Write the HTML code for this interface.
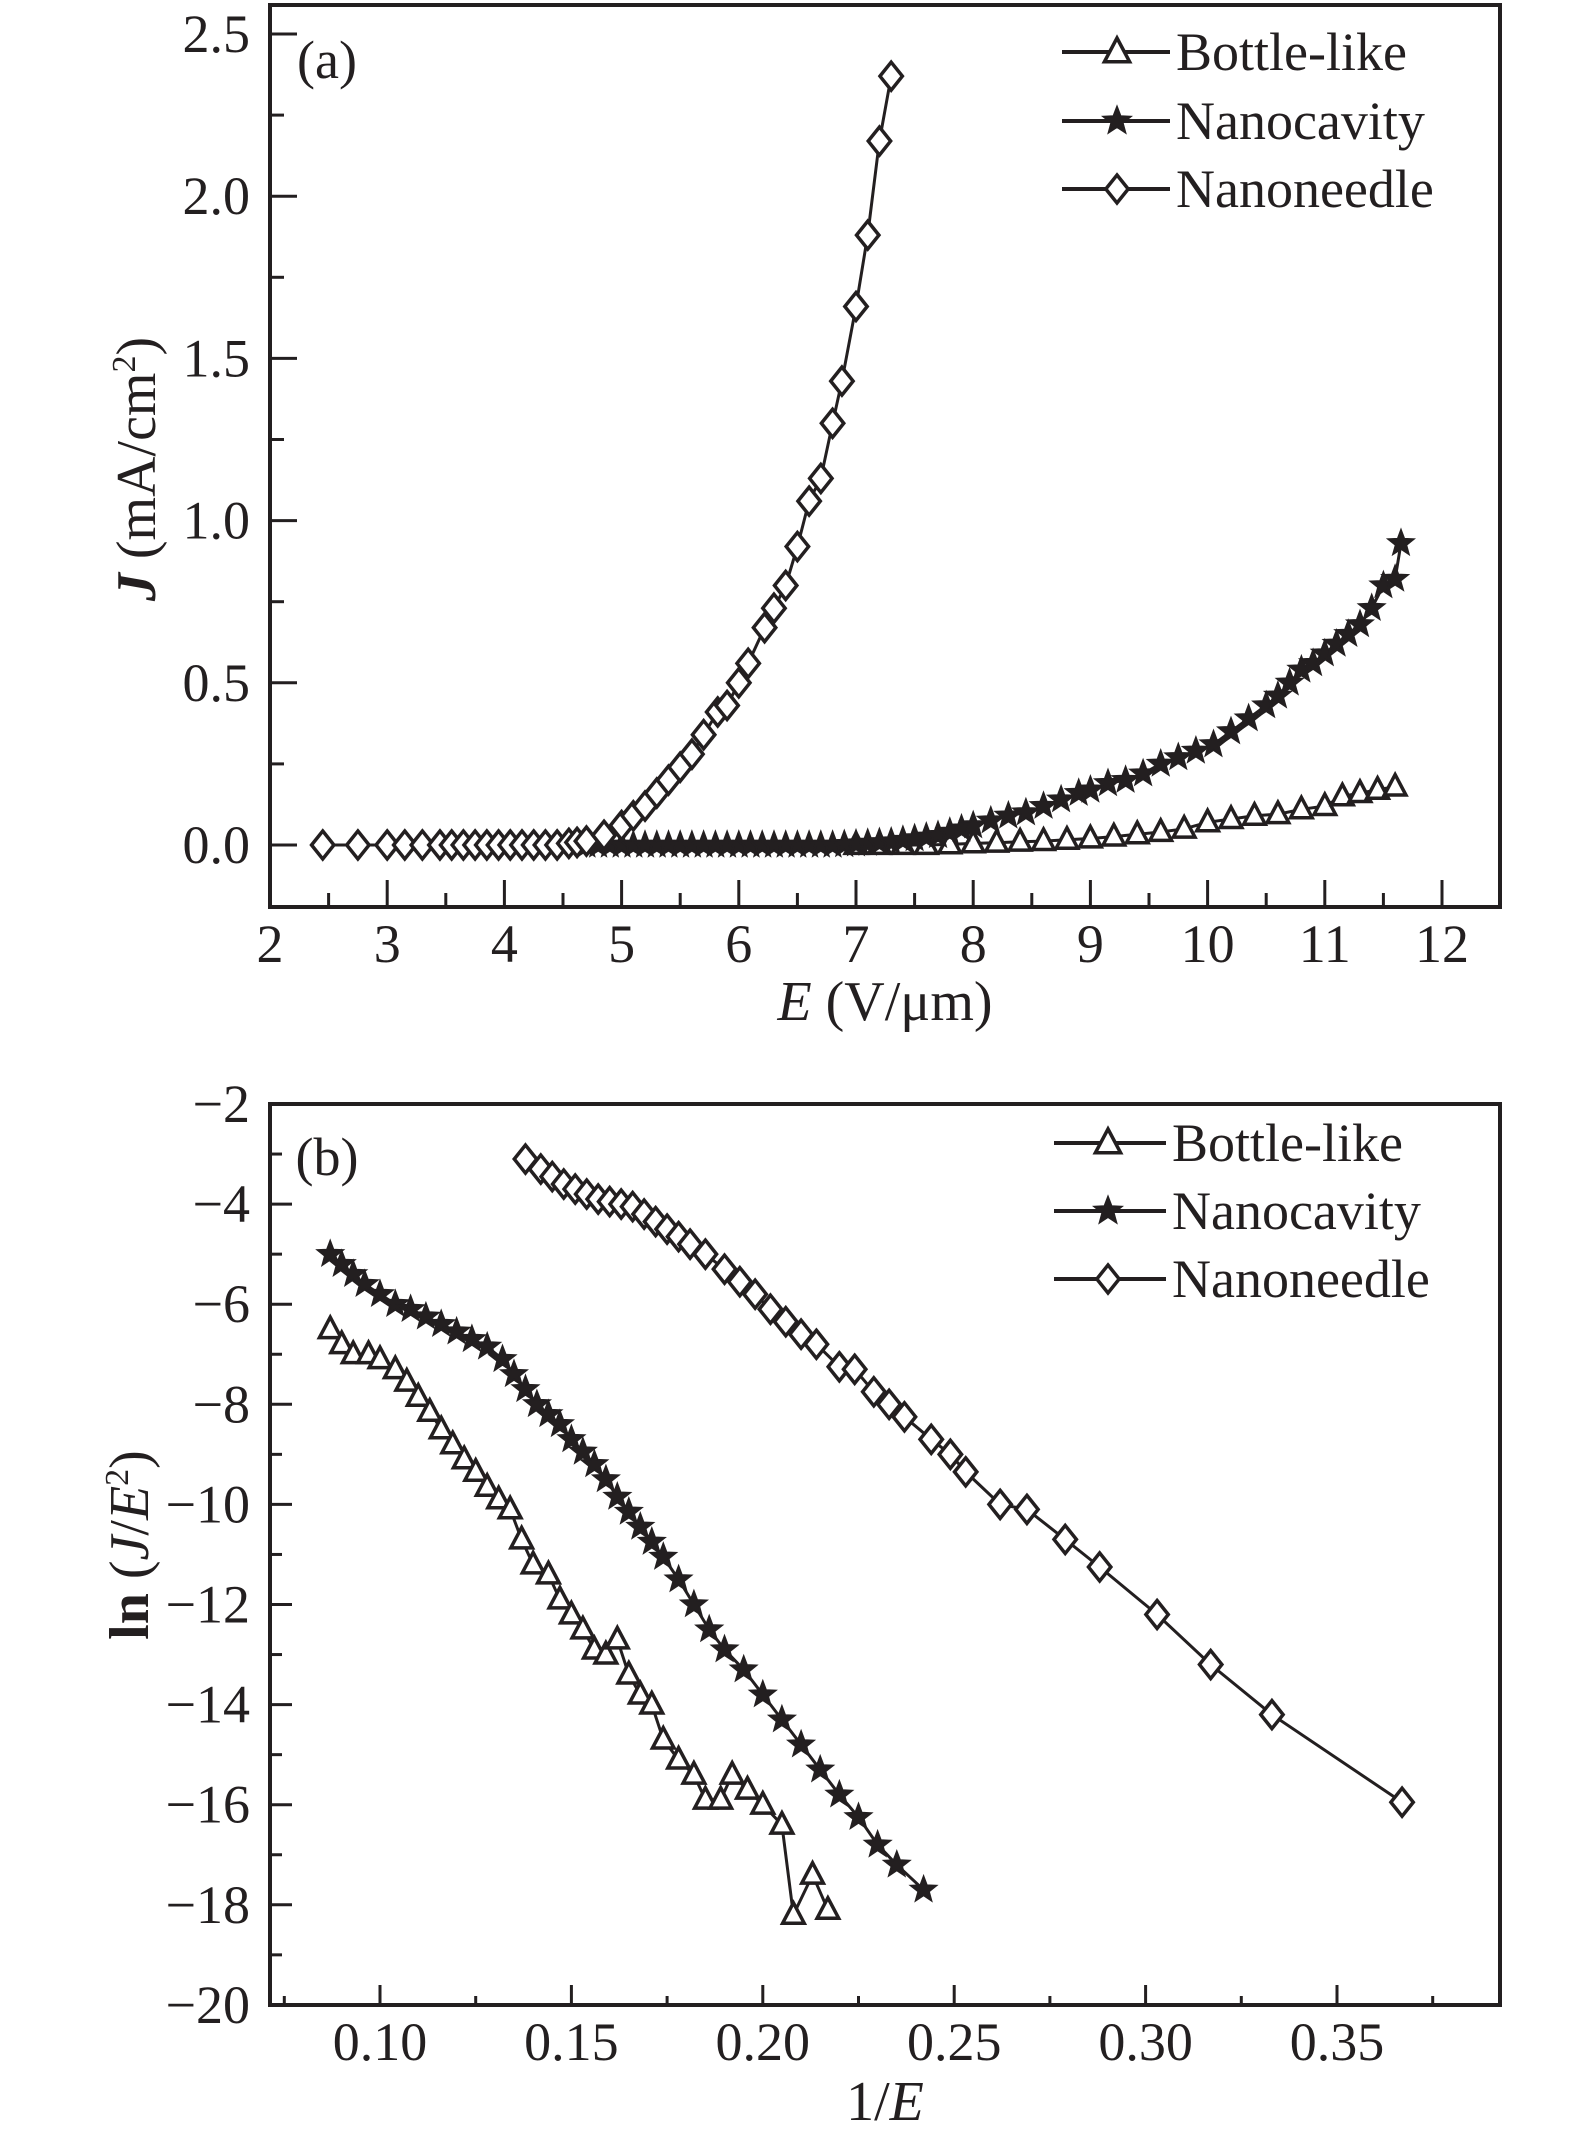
<!DOCTYPE html>
<html><head><meta charset="utf-8"><style>
html,body{margin:0;padding:0;background:#fff;}
svg{display:block;font-family:"Liberation Serif",serif;}
</style></head><body>
<svg id="fig" width="1575" height="2142" viewBox="0 0 1575 2142" xmlns="http://www.w3.org/2000/svg"></svg>
<script>
// ---------- Panel (a) data ----------
const aNeedleE = [2.45,2.75,3.0,3.15,3.3,3.45,3.55,3.65,3.75,3.85,3.95,4.05,4.15,4.25,4.35,4.45,4.55,4.62,4.7,4.85,5.0,5.1,5.2,5.3,5.4,5.5,5.6,5.7,5.82,5.9,6.0,6.08,6.22,6.3,6.4,6.5,6.6,6.7,6.8,6.88,7.0,7.1,7.2,7.3];
const aNeedleJ = [0,0,0,0,0,0,0,0,0,0,0,0,0,0,0,0,0.005,0.008,0.012,0.03,0.06,0.09,0.12,0.16,0.2,0.24,0.28,0.34,0.41,0.43,0.5,0.56,0.67,0.73,0.8,0.92,1.06,1.13,1.3,1.43,1.66,1.88,2.17,2.37];
const aCavE = [4.7,4.8,4.9,5.0,5.1,5.2,5.3,5.4,5.5,5.6,5.7,5.8,5.9,6.0,6.1,6.2,6.3,6.4,6.5,6.6,6.7,6.8,6.9,7.0,7.1,7.2,7.3,7.4,7.5,7.6,7.7,7.8,7.9,8.0,8.15,8.3,8.45,8.6,8.75,8.9,9.0,9.15,9.3,9.45,9.6,9.75,9.9,10.05,10.2,10.35,10.5,10.6,10.7,10.8,10.9,11.0,11.1,11.2,11.3,11.4,11.5,11.6,11.65];
const aCavJ = [0,0,0,0,0,0,0,0,0,0,0,0,0,0,0,0,0,0,0,0,0,0,0.002,0.004,0.006,0.008,0.01,0.015,0.02,0.025,0.03,0.04,0.05,0.06,0.075,0.09,0.1,0.12,0.14,0.16,0.17,0.19,0.2,0.22,0.25,0.27,0.29,0.31,0.35,0.39,0.43,0.46,0.5,0.54,0.56,0.59,0.62,0.65,0.68,0.73,0.8,0.82,0.93];
const aBotE = [7.0,7.2,7.4,7.6,7.8,8.0,8.2,8.4,8.6,8.8,9.0,9.2,9.4,9.6,9.8,10.0,10.2,10.4,10.6,10.8,11.0,11.15,11.3,11.45,11.6];
const aBotJ = [0,0,0,0,0.002,0.005,0.007,0.01,0.012,0.016,0.02,0.026,0.033,0.04,0.05,0.07,0.08,0.09,0.095,0.11,0.12,0.15,0.16,0.17,0.18];
const aXTicks = [2,3,4,5,6,7,8,9,10,11,12];
const aYTicks = [0.0,0.5,1.0,1.5,2.0,2.5];
const aYLabels = ["0.0","0.5","1.0","1.5","2.0","2.5"];
// ---------- Panel (b) data ----------
const bNeedleX = [0.138,0.142,0.145,0.148,0.151,0.154,0.157,0.160,0.163,0.166,0.169,0.172,0.175,0.178,0.181,0.185,0.190,0.194,0.198,0.202,0.206,0.210,0.214,0.220,0.224,0.229,0.233,0.237,0.244,0.249,0.253,0.262,0.269,0.279,0.288,0.303,0.317,0.333,0.367];
const bNeedleY = [-3.1,-3.3,-3.45,-3.6,-3.7,-3.8,-3.9,-3.95,-4.0,-4.05,-4.2,-4.35,-4.5,-4.65,-4.8,-5.0,-5.3,-5.55,-5.8,-6.1,-6.35,-6.6,-6.8,-7.25,-7.3,-7.75,-8.0,-8.25,-8.7,-9.0,-9.35,-10.0,-10.1,-10.7,-11.25,-12.2,-13.2,-14.2,-15.95];
const bCavX = [0.087,0.090,0.093,0.096,0.100,0.104,0.108,0.112,0.116,0.120,0.124,0.128,0.132,0.135,0.138,0.141,0.144,0.147,0.150,0.153,0.156,0.159,0.162,0.165,0.168,0.171,0.174,0.178,0.182,0.186,0.190,0.195,0.200,0.205,0.210,0.215,0.220,0.225,0.230,0.235,0.242];
const bCavY = [-5.0,-5.2,-5.4,-5.6,-5.8,-6.0,-6.1,-6.25,-6.4,-6.55,-6.7,-6.85,-7.1,-7.4,-7.7,-8.0,-8.2,-8.4,-8.7,-8.95,-9.2,-9.5,-9.85,-10.15,-10.45,-10.75,-11.05,-11.5,-12.0,-12.5,-12.9,-13.3,-13.8,-14.3,-14.8,-15.3,-15.8,-16.25,-16.8,-17.2,-17.7];
const bBotX = [0.087,0.090,0.093,0.097,0.100,0.104,0.107,0.110,0.113,0.116,0.119,0.122,0.125,0.128,0.131,0.134,0.137,0.140,0.144,0.147,0.150,0.153,0.156,0.159,0.162,0.165,0.168,0.171,0.174,0.178,0.182,0.185,0.189,0.192,0.196,0.200,0.205,0.208,0.213,0.217];
const bBotY = [-6.5,-6.8,-7.0,-7.0,-7.1,-7.3,-7.55,-7.85,-8.15,-8.5,-8.8,-9.1,-9.35,-9.65,-9.9,-10.1,-10.7,-11.2,-11.4,-11.9,-12.2,-12.5,-12.9,-13.0,-12.7,-13.4,-13.8,-14.0,-14.7,-15.1,-15.4,-15.9,-15.9,-15.4,-15.7,-16.0,-16.4,-18.2,-17.4,-18.1];
const bXTicks = [0.10,0.15,0.20,0.25,0.30,0.35];
const bXLabels = ["0.10","0.15","0.20","0.25","0.30","0.35"];
const bYTicks = [-20,-18,-16,-14,-12,-10,-8,-6,-4,-2];
const bYLabels = ["\u221220","\u221218","\u221216","\u221214","\u221212","\u221210","\u22128","\u22126","\u22124","\u22122"];

const NS = "http://www.w3.org/2000/svg";
const svg = document.getElementById('fig');
const INK = "#231f20";
const TF = 54;
function mk(tag, attrs, parent){const e=document.createElementNS(NS,tag);for(const k in attrs)e.setAttribute(k,attrs[k]);(parent||svg).appendChild(e);return e;}

const axA = {x: v => 270 + (v-2)*117.2, y: v => 845 - v*324.4};
const axB = {x: v => 380 + (v-0.10)*3828, y: v => 1104 + (-2 - v)*50.05};

function marker(g, type, x, y, s){
  let e;
  if(type==='diamond'){
    e = mk('polygon',{points:`${x},${y-s} ${x+s*0.8},${y} ${x},${y+s} ${x-s*0.8},${y}`,fill:'#fff',stroke:INK,'stroke-width':3.5},g);
  } else if(type==='triangle'){
    e = mk('polygon',{points:`${x},${y-s} ${x+s*0.9},${y+s*0.7} ${x-s*0.9},${y+s*0.7}`,fill:'#fff',stroke:INK,'stroke-width':3.5},g);
  } else {
    const pts=[];for(let i=0;i<10;i++){const r=i%2?s*0.42:s;const a=-Math.PI/2+i*Math.PI/5;pts.push((x+r*Math.cos(a)).toFixed(1)+','+(y+r*Math.sin(a)).toFixed(1));}
    e = mk('polygon',{points:pts.join(' '),fill:INK,stroke:INK,'stroke-width':2},g);
  }
  
  
  return e;
}
function series(name, ax, xs, ys, type, s){
  const g = mk('g',{});
  
  
  const d = xs.map((v,i)=>(i?'L':'M')+ax.x(v).toFixed(1)+','+ax.y(ys[i]).toFixed(1)).join(' ');
  const p = mk('path',{d:d,fill:'none',stroke:INK,'stroke-width':3},g);
  
  
  xs.forEach((v,i)=>marker(g,type,ax.x(v),ax.y(ys[i]),s));
}
function text(str, x, y, size, anchor, name, extra, parent){
  const t = mk('text',Object.assign({x:x,y:y,'font-size':size,'text-anchor':anchor||'middle',fill:INK},extra||{}),parent);
  t.textContent = str;
  
  
  return t;
}
function frame(top,bottom,name){
  const r = mk('rect',{x:270,y:top,width:1230,height:bottom-top,fill:'none',stroke:INK,'stroke-width':4});
  
  
}

// ---------- Panel (a) ----------
frame(5,907,'panel-a-frame');
aXTicks.forEach((v,i)=>{
  const x=axA.x(v);
  mk('line',{x1:x,y1:907,x2:x,y2:880,stroke:INK,'stroke-width':3});
  if(i<aXTicks.length-1){const xm=axA.x(v+0.5);mk('line',{x1:xm,y1:907,x2:xm,y2:893,stroke:INK,'stroke-width':3});}
  text(String(v),x,962,TF,'middle','x-tick-label-a');
});
aYTicks.forEach((v,i)=>{
  const y=axA.y(v);
  mk('line',{x1:270,y1:y,x2:297,y2:y,stroke:INK,'stroke-width':3});
  mk('line',{x1:270,y1:axA.y(v+0.25),x2:284,y2:axA.y(v+0.25),stroke:INK,'stroke-width':3});
  text(aYLabels[i],250,y+18,TF,'end','y-tick-label-a');
});
text('(a)',327,78,54,'middle','panel-a-label');
series('bottle-like-a',axA,aBotE,aBotJ,'triangle',12);
series('nanocavity-a',axA,aCavE,aCavJ,'star',13);
series('nanoneedle-a',axA,aNeedleE,aNeedleJ,'diamond',14);
const ttlA = text('',885,1020,56,'middle','x-axis-title-a');
ttlA.innerHTML='<tspan font-style="italic">E</tspan> (V/μm)';
const ytA = text('',0,0,56,'middle','y-axis-title-a',{transform:'translate(155,469) rotate(-90)'});
ytA.innerHTML='<tspan font-style="italic" font-weight="bold">J</tspan> (mA/cm<tspan font-size="34" dy="-20">2</tspan><tspan dy="20">)</tspan>';
const legA=[['Bottle-like','triangle',52],['Nanocavity','star',121],['Nanoneedle','diamond',189]];
legA.forEach(l=>{
  const g=mk('g',{});
  
  
  mk('line',{x1:1062,y1:l[2],x2:1170,y2:l[2],stroke:INK,'stroke-width':4},g);
  marker(g,l[1],1117,l[2],14);
  text(l[0],1176,l[2]+18,54,'start','legend-label',null,g);
});

// ---------- Panel (b) ----------
frame(1104,2005,'panel-b-frame');
bXTicks.forEach((v,i)=>{
  const x=axB.x(v);
  mk('line',{x1:x,y1:2005,x2:x,y2:1985,stroke:INK,'stroke-width':3});
  const xm=axB.x(v-0.025);mk('line',{x1:xm,y1:2005,x2:xm,y2:1996,stroke:INK,'stroke-width':3});
  text(bXLabels[i],x,2060,TF,'middle','x-tick-label-b');
});
{const xm=axB.x(0.375);mk('line',{x1:xm,y1:2005,x2:xm,y2:1996,stroke:INK,'stroke-width':3});}
bYTicks.forEach((v,i)=>{
  const y=axB.y(v);
  mk('line',{x1:270,y1:y,x2:292,y2:y,stroke:INK,'stroke-width':3});
  if(v<-2){mk('line',{x1:270,y1:axB.y(v+1),x2:282,y2:axB.y(v+1),stroke:INK,'stroke-width':3});}
  text(bYLabels[i],250,y+18,TF,'end','y-tick-label-b');
});
text('(b)',327,1175,54,'middle','panel-b-label');
series('bottle-like-b',axB,bBotX,bBotY,'triangle',12);
series('nanocavity-b',axB,bCavX,bCavY,'star',13);
series('nanoneedle-b',axB,bNeedleX,bNeedleY,'diamond',14);
const ttlB = text('',885,2120,56,'middle','x-axis-title-b');
ttlB.innerHTML='1/<tspan font-style="italic">E</tspan>';
const ytB = text('',0,0,56,'middle','y-axis-title-b',{transform:'translate(148,1545) rotate(-90)'});
ytB.innerHTML='<tspan font-weight="bold">ln</tspan> (<tspan font-style="italic">J</tspan>/<tspan font-style="italic">E</tspan><tspan font-size="34" dy="-20">2</tspan><tspan dy="20">)</tspan>';
const legB=[['Bottle-like','triangle',1143],['Nanocavity','star',1211],['Nanoneedle','diamond',1279]];
legB.forEach(l=>{
  const g=mk('g',{});
  
  
  mk('line',{x1:1054,y1:l[2],x2:1166,y2:l[2],stroke:INK,'stroke-width':4},g);
  marker(g,l[1],1108,l[2],14);
  text(l[0],1172,l[2]+18,54,'start','legend-label',null,g);
});
</script>
</body></html>
